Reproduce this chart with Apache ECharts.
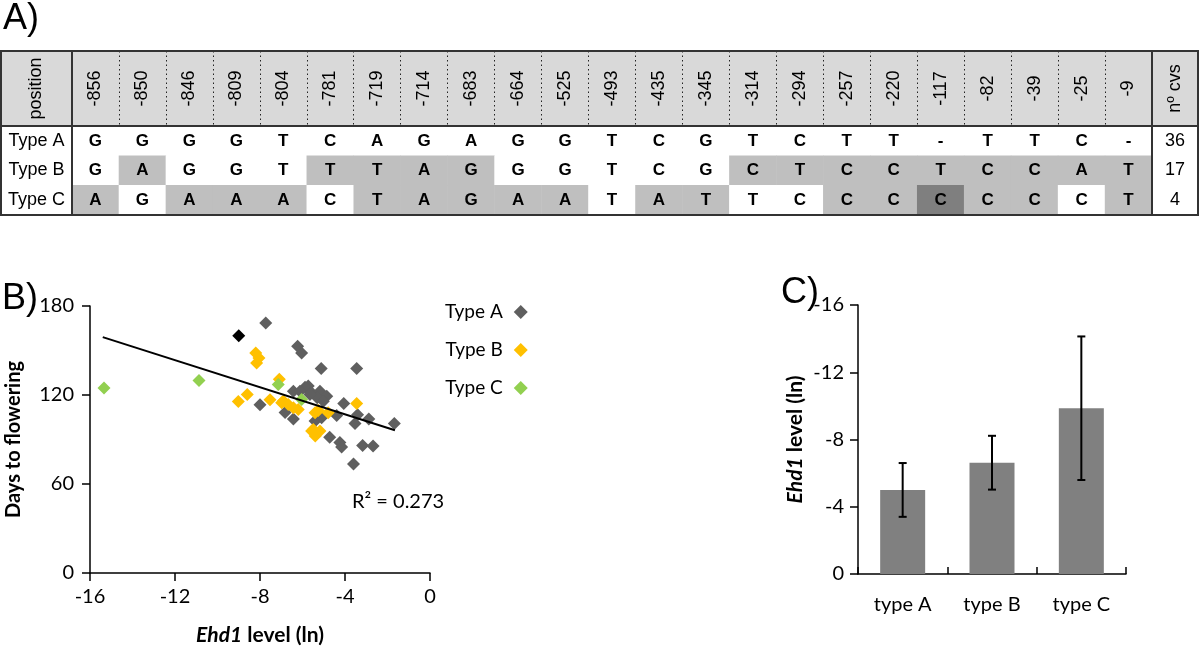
<!DOCTYPE html>
<html><head><meta charset="utf-8">
<script src="https://cdn.jsdelivr.net/npm/echarts@6/dist/echarts.min.js"></script>
<style>html,body{margin:0;padding:0;background:#fff}#c{width:1200px;height:647px}</style>
</head><body><div id="c"></div>
<script>
// ---------- Panel A data ----------
const positions = ['-856','-850','-846','-809','-804','-781','-719','-714','-683','-664','-525','-493','-435','-345','-314','-294','-257','-220','-117','-82','-39','-25','-9'];
const rowNames = ['Type A','Type B','Type C'];
const allelesA = ['G','G','G','G','T','C','A','G','A','G','G','T','C','G','T','C','T','T','-','T','T','C','-'];
const allelesB = ['G','A','G','G','T','T','T','A','G','G','G','T','C','G','C','T','C','C','T','C','C','A','T'];
const allelesC = ['A','G','A','A','A','C','T','A','G','A','A','T','A','T','T','C','C','C','C','C','C','C','T'];
const shadeA = [0,0,0,0,0,0,0,0,0,0,0,0,0,0,0,0,0,0,0,0,0,0,0];
const shadeB = [0,1,0,0,0,1,1,1,1,0,0,0,0,0,1,1,1,1,1,1,1,1,1];
const shadeC = [1,0,1,1,1,0,1,1,1,1,1,0,1,1,0,0,1,1,2,1,1,0,1];
const cultivarCounts = [36,17,4];
const headLeft = 'position';
const headRight = 'nº cvs';

// ---------- Panel B data ----------
const typeA_x = [-7.73,-6.23,-6.04,-5.12,-3.45,-5.73,-5.88,-6.43,-6.12,-5.57,-5.18,-4.86,-5.31,-5.02,-8.0,-4.06,-6.82,-6.43,-5.41,-5.1,-4.39,-3.41,-3.53,-2.88,-1.68,-4.72,-4.24,-4.16,-3.17,-2.68,-3.6,-5.65];
const typeA_y = [168.5,152.8,148.3,137.8,137.8,126,125.2,122.6,122.6,121.5,122.6,119.2,118.1,115.8,113.4,114.2,108.2,103.8,102.4,104.7,106.2,106.7,100.8,103.8,100.8,91.6,87.9,85,86,85.6,73.4,120.3];
const typeB_x = [-9.02,-8.6,-8.2,-8.05,-8.16,-7.09,-7.53,-6.98,-6.9,-6.67,-6.43,-6.2,-5.41,-5.26,-4.79,-3.45,-5.57,-5.18,-5.4,-5.49];
const typeB_y = [115.6,120.4,148.3,145,141.6,130.6,116.8,114.8,116,113.6,111.4,110.3,108.1,109.5,108,114.3,95.7,95.7,92.4,96.8];
const typeC_x = [-15.34,-10.87,-7.14,-6.04];
const typeC_y = [124.8,129.8,127,117];
const other_x = [-9.0];
const other_y = [160];
const trendLine = [[-15.4,159],[-1.65,96.2]];
const r2Label = 'R² = 0.273';
const scatterXTicks = {min:-16,max:0,interval:4};
const scatterYTicks = {min:0,max:180,interval:60};

// ---------- Panel C data ----------
const barCategories = ['type A','type B','type C'];
const barMeans = [-5.0,-6.62,-9.86];
const barErrors = [1.6,1.6,4.27];
const barYTicks = {min:-16,max:0,interval:4};

// ---------- build ----------
const tableFont = 'Liberation Sans, Arial, sans-serif';
const chartFont = 'Lato, sans-serif';
const shadeColors = ['#ffffff','#bfbfbf','#7f7f7f'];
const headGrey = '#d9d9d9';
const zip = (xs, ys) => xs.map((x,i)=>[x, ys[i]]);

const tableGrids = [
  {left:1, top:51, width:71, height:75},
  {left:72, top:51, width:1080, height:75},
  {left:1152, top:51, width:46, height:75},
  {left:1, top:126, width:71, height:89},
  {left:72, top:126, width:1080, height:89},
  {left:1152, top:126, width:46, height:89}
].map(g => Object.assign(g, {show:true, z:11, backgroundColor:'transparent', borderColor:'#333', borderWidth:2}));

const grids = tableGrids.concat([
  {left:90, top:306, width:340, height:268},
  {left:858, top:305, width:268, height:269}
]);

function hiddenCat(gridIndex, data, extra) {
  return Object.assign({type:'category', gridIndex, data, axisLine:{show:false}, axisTick:{show:false}, axisLabel:{show:false}, splitLine:{show:false}}, extra||{});
}
const xAxes = [
  hiddenCat(0, ['h']),
  hiddenCat(1, positions, {z:10, splitLine:{show:true, interval:0, lineStyle:{type:[1.5,3], color:'#222', width:1}}}),
  hiddenCat(2, ['h']),
  hiddenCat(3, ['r']),
  hiddenCat(4, positions),
  hiddenCat(5, ['n'])
];
const yAxes = [
  hiddenCat(0, ['h']), hiddenCat(1, ['h']), hiddenCat(2, ['h']),
  hiddenCat(3, rowNames, {inverse:true}), hiddenCat(4, rowNames, {inverse:true}), hiddenCat(5, rowNames, {inverse:true})
];
const axisLineStyle = {show:true, onZero:false, lineStyle:{color:'#000', width:1.5}};
const tickLabel = {color:'#000', fontSize:20, fontFamily:chartFont};
const nameStyle = {color:'#000', fontSize:21, fontWeight:'bold', fontFamily:chartFont, rich:{i:{fontStyle:'italic', fontWeight:'bold', fontSize:21, fontFamily:chartFont}}};
xAxes.push({type:'value', gridIndex:6, position:'bottom', min:scatterXTicks.min, max:scatterXTicks.max, interval:scatterXTicks.interval,
  axisLine:axisLineStyle, axisTick:{show:true, length:8, lineStyle:{color:'#000', width:1.5}}, splitLine:{show:false},
  axisLabel:Object.assign({margin:14}, tickLabel),
  name:'{i|Ehd1} level (ln)', nameLocation:'middle', nameGap:52, nameTextStyle:nameStyle});
yAxes.push({type:'value', gridIndex:6, position:'left', min:scatterYTicks.min, max:scatterYTicks.max, interval:scatterYTicks.interval,
  axisLine:axisLineStyle, axisTick:{show:true, length:8, lineStyle:{color:'#000', width:1.5}}, splitLine:{show:false},
  axisLabel:Object.assign({margin:16}, tickLabel),
  name:'Days to flowering', nameLocation:'middle', nameGap:66,
  nameTextStyle:{color:'#000', fontSize:20, fontWeight:'bold', fontFamily:chartFont}});
xAxes.push({type:'category', gridIndex:7, position:'bottom', data:barCategories,
  axisLine:axisLineStyle, axisTick:{show:true, inside:true, length:7, lineStyle:{color:'#000', width:1.5}},
  axisLabel:Object.assign({margin:21}, tickLabel), splitLine:{show:false}});
yAxes.push({type:'value', gridIndex:7, position:'left', inverse:true, min:barYTicks.min, max:barYTicks.max, interval:barYTicks.interval,
  axisLine:axisLineStyle, axisTick:{show:true, length:8, lineStyle:{color:'#000', width:1.5}}, splitLine:{show:false},
  axisLabel:Object.assign({margin:14}, tickLabel),
  name:'{i|Ehd1} level (ln)', nameLocation:'middle', nameGap:52, nameTextStyle:nameStyle});

function heat(idx, items, labelOpt) {
  return {type:'heatmap', xAxisIndex:idx, yAxisIndex:idx, data:items, silent:true,
    emphasis:{disabled:true},
    label:Object.assign({show:true, color:'#000', fontFamily:tableFont, fontSize:18}, labelOpt)};
}
const alleleRows = [allelesA, allelesB, allelesC];
const shadeRows = [shadeA, shadeB, shadeC];
const bodyItems = [];
alleleRows.forEach((row, r) => row.forEach((a, i) => bodyItems.push({value:[i, r, shadeRows[r][i]], name:a, itemStyle:{color:shadeColors[shadeRows[r][i]]}})));

const series = [
  heat(0, [{value:[0,0,0], name:headLeft, itemStyle:{color:headGrey}}], {rotate:90, formatter:p=>p.name}),
  heat(1, positions.map((p,i)=>({value:[i,0,0], name:p, itemStyle:{color:headGrey}})), {rotate:90, formatter:p=>p.name}),
  heat(2, [{value:[0,0,0], name:headRight, itemStyle:{color:headGrey}}], {rotate:90, formatter:p=>p.name}),
  heat(3, rowNames.map((n,r)=>({value:[0,r,0], name:n, itemStyle:{color:'#fff'}})), {formatter:p=>p.name}),
  heat(4, bodyItems, {fontWeight:'bold', fontSize:17, formatter:p=>p.name}),
  heat(5, cultivarCounts.map((c,r)=>({value:[0,r,0], name:String(c), itemStyle:{color:'#fff'}})), {formatter:p=>p.name}),
  {type:'scatter', name:'Type A', xAxisIndex:6, yAxisIndex:6, symbol:'diamond', symbolSize:13, data:zip(typeA_x, typeA_y), itemStyle:{color:'#5f5f5f', opacity:1}},
  {type:'scatter', name:'Type B', xAxisIndex:6, yAxisIndex:6, symbol:'diamond', symbolSize:13, data:zip(typeB_x, typeB_y), itemStyle:{color:'#ffc000', opacity:1}},
  {type:'scatter', name:'Type C', xAxisIndex:6, yAxisIndex:6, symbol:'diamond', symbolSize:13, data:zip(typeC_x, typeC_y), itemStyle:{color:'#92d050', opacity:1}},
  {type:'scatter', name:'other', xAxisIndex:6, yAxisIndex:6, symbol:'diamond', symbolSize:13, data:zip(other_x, other_y), itemStyle:{color:'#000', opacity:1}},
  {type:'line', name:'trend', xAxisIndex:6, yAxisIndex:6, data:trendLine, symbol:'none', z:5, lineStyle:{color:'#000', width:2}, silent:true},
  {type:'bar', xAxisIndex:7, yAxisIndex:7, data:barMeans, barWidth:45, itemStyle:{color:'#808080'}, silent:true},
  {type:'custom', xAxisIndex:7, yAxisIndex:7, data:barMeans.map((m,i)=>[i, m-barErrors[i], m+barErrors[i]]), encode:{x:0, y:[1,2]}, z:5,
    renderItem:function(params, api){
      const lo = api.coord([api.value(0), api.value(1)]);
      const hi = api.coord([api.value(0), api.value(2)]);
      const w = 4;
      const st = {stroke:'#000', lineWidth:2};
      return {type:'group', children:[
        {type:'line', shape:{x1:lo[0], y1:lo[1], x2:hi[0], y2:hi[1]}, style:st},
        {type:'line', shape:{x1:lo[0]-w, y1:lo[1], x2:lo[0]+w, y2:lo[1]}, style:st},
        {type:'line', shape:{x1:hi[0]-w, y1:hi[1], x2:hi[0]+w, y2:hi[1]}, style:st}
      ]};
    }}
];

const chart = echarts.init(document.getElementById('c'), null, {renderer:'canvas'});
chart.setOption({
  animation:false,
  backgroundColor:'#fff',
  textStyle:{fontFamily:chartFont},
  grid:grids, xAxis:xAxes, yAxis:yAxes, series:series,
  legend:{data:['Type A','Type B','Type C'], orient:'vertical', left:440, top:297, align:'right',
    itemWidth:14, itemHeight:14, itemGap:18, selectedMode:false,
    textStyle:{color:'#000', fontSize:19, fontFamily:chartFont, lineHeight:20, padding:[0,6,0,0]}},
  graphic:[
    {type:'text', left:3, top:1, style:{text:'A)', fontSize:36, fontFamily:tableFont, fill:'#000'}},
    {type:'text', left:2, top:281, style:{text:'B)', fontSize:36, fontFamily:tableFont, fill:'#000'}},
    {type:'text', left:781, top:275, style:{text:'C)', fontSize:36, fontFamily:tableFont, fill:'#000'}},
    {type:'text', left:352, top:492, style:{text:r2Label, fontSize:20, fontFamily:chartFont, fill:'#000'}}
  ]
});
</script></body></html>
